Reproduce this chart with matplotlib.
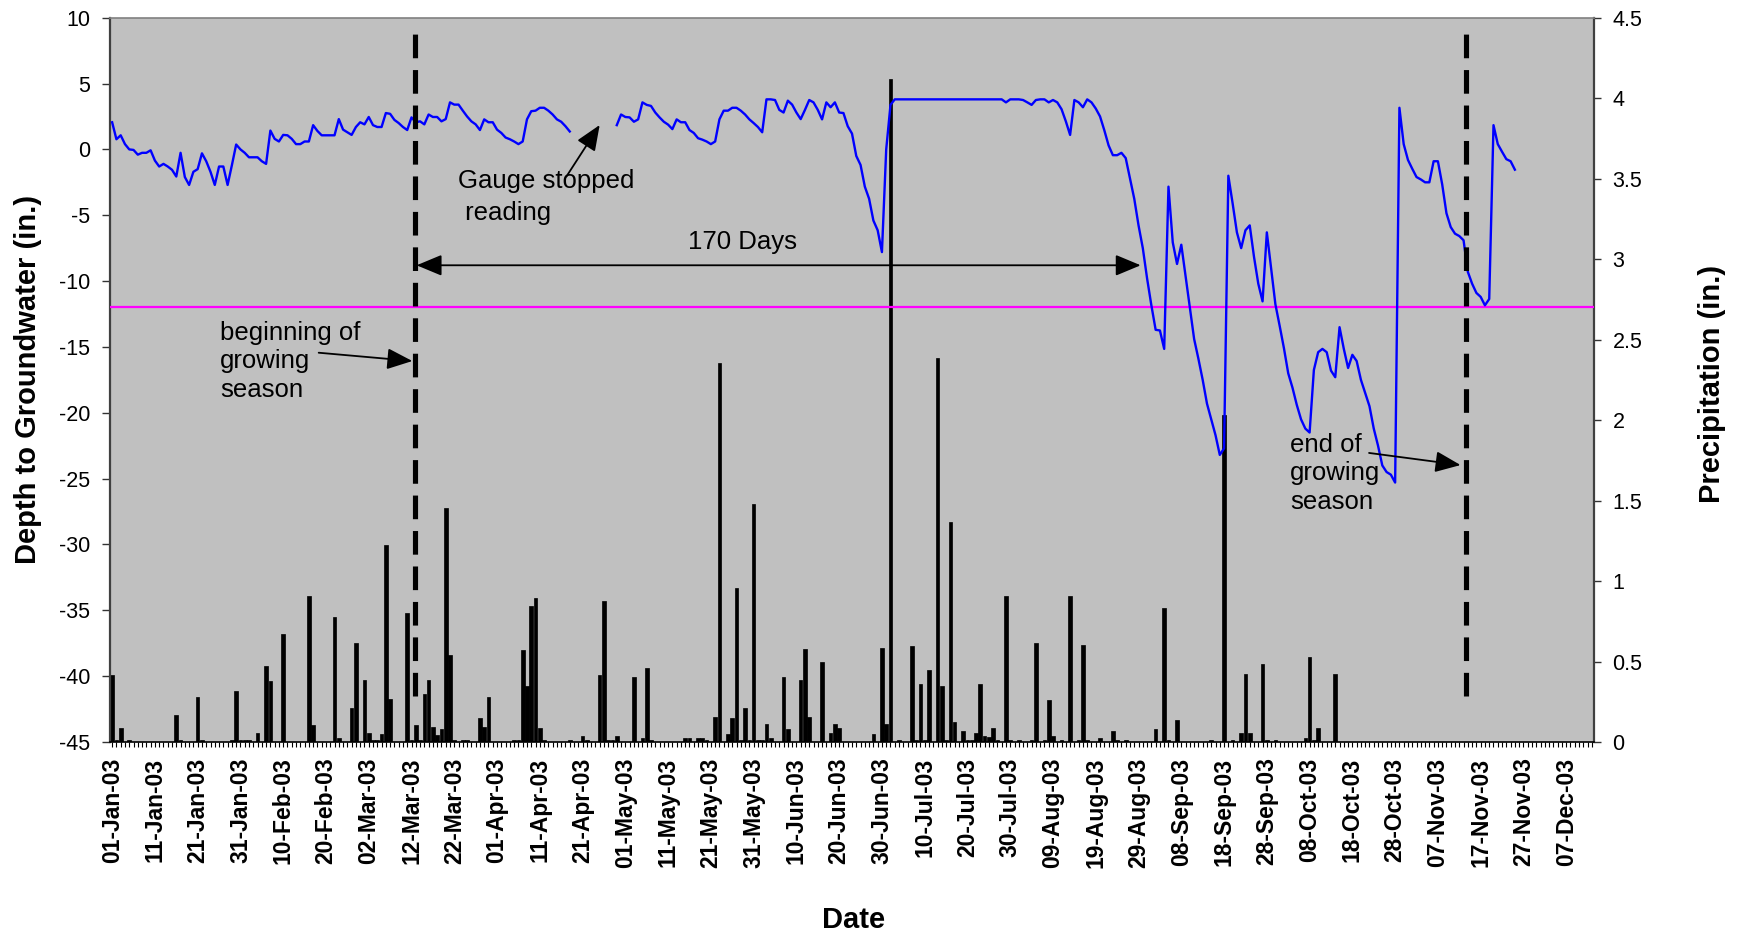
import numpy as np
import pandas as pd
import matplotlib
matplotlib.use("Agg")
import matplotlib.pyplot as plt

plt.rcParams["font.family"] = ["Liberation Sans", "DejaVu Sans"]
plt.rcParams["axes.unicode_minus"] = False

# daily depth to groundwater (in.), starting 01-Jan-03; None = gauge not reading
depth = [
    2.06, 0.77, 1.07, 0.4, 0.0, -0.04, -0.4, -0.26, -0.26, -0.07,
    -0.85, -1.3, -1.1, -1.3, -1.55, -2.06, -0.26, -2.1, -2.7, -1.7,
    -1.5, -0.3, -0.9, -1.7, -2.7, -1.3, -1.3, -2.7, -1.2, 0.37,
    0.0, -0.26, -0.6, -0.6, -0.6, -0.9, -1.1, 1.43, 0.8, 0.6,
    1.1, 1.07, 0.8, 0.4, 0.4, 0.6, 0.6, 1.84, 1.4, 1.07,
    1.07, 1.07, 1.07, 2.3, 1.5, 1.3, 1.1, 1.7, 2.06, 1.9,
    2.46, 1.84, 1.7, 1.7, 2.76, 2.7, 2.24, 2.0, 1.7, 1.47,
    2.43, 2.06, 2.13, 1.9, 2.65, 2.46, 2.46, 2.13, 2.3, 3.57,
    3.4, 3.4, 2.94, 2.5, 2.13, 1.9, 1.47, 2.28, 2.06, 2.06,
    1.5, 1.25, 0.9, 0.77, 0.6, 0.4, 0.6, 2.28, 2.9, 2.94,
    3.16, 3.16, 2.94, 2.65, 2.28, 2.1, 1.76, 1.36, None, None,
    None, None, None, None, None, None, None, None, 1.84, 2.65,
    2.46, 2.43, 2.1, 2.28, 3.57, 3.38, 3.3, 2.8, 2.43, 2.1,
    1.88, 1.54, 2.28, 2.06, 2.06, 1.47, 1.25, 0.85, 0.74, 0.6,
    0.4, 0.6, 2.28, 2.94, 2.94, 3.16, 3.16, 2.94, 2.65, 2.28,
    2.0, 1.7, 1.3, 3.8, 3.8, 3.75, 3.0, 2.8, 3.7, 3.4,
    2.8, 2.3, 3.0, 3.75, 3.57, 3.0, 2.28, 3.57, 3.2, 3.57,
    2.8, 2.76, 1.76, 1.2, -0.5, -1.18, -2.83, -3.75, -5.4, -6.14,
    -7.8, 0.0, 3.38, 3.8, 3.8, 3.8, 3.8, 3.8, 3.8, 3.8,
    3.8, 3.8, 3.8, 3.8, 3.8, 3.8, 3.8, 3.8, 3.8, 3.8,
    3.8, 3.8, 3.8, 3.8, 3.8, 3.8, 3.8, 3.8, 3.8, 3.57,
    3.8, 3.8, 3.8, 3.75, 3.57, 3.38, 3.75, 3.8, 3.8, 3.57,
    3.75, 3.57, 3.05, 2.13, 1.1, 3.75, 3.57, 3.2, 3.8, 3.57,
    3.1, 2.5, 1.45, 0.3, -0.44, -0.44, -0.26, -0.66, -2.2, -3.75,
    -5.77, -7.5, -9.8, -11.84, -13.7, -13.75, -15.15, -2.83, -7.06, -8.7,
    -7.24, -9.63, -12.0, -14.4, -15.9, -17.5, -19.3, -20.5, -21.7, -23.2,
    -22.7, -2.0, -4.1, -6.3, -7.5, -6.14, -5.77, -8.16, -10.2, -11.54,
    -6.3, -9.05, -11.76, -13.4, -15.1, -17.0, -18.1, -19.4, -20.5, -21.2,
    -21.5, -16.75, -15.4, -15.15, -15.4, -16.8, -17.3, -13.5, -15.15, -16.6,
    -15.6, -16.07, -17.5, -18.5, -19.5, -21.2, -22.5, -24.0, -24.5, -24.7,
    -25.3, 3.16, 0.4, -0.8, -1.47, -2.1, -2.28, -2.5, -2.5, -0.9,
    -0.9, -2.65, -4.85, -5.9, -6.4, -6.58, -6.9, -9.3, -10.2, -10.9,
    -11.2, -11.84, -11.36, 1.84, 0.4, -0.18, -0.74, -0.9, -1.54,
]

# precipitation (in.): day offset from 01-Jan-03 and amount
rain_day = [
    0, 1, 2, 4, 15, 16, 20, 21, 28, 29, 30, 31, 32, 34, 36, 37, 40, 46, 47, 52,
    53, 56, 57, 59, 60, 61, 62, 63, 64, 65, 69, 70, 71, 72, 73, 74, 75, 76, 77, 78,
    79, 80, 82, 83, 86, 87, 88, 94, 95, 96, 97, 98, 99, 100, 101, 107, 110, 111, 114, 115,
    116, 117, 118, 122, 124, 125, 126, 134, 135, 137, 138, 139, 141, 142, 144, 145, 146, 147, 148, 149,
    150, 151, 152, 153, 154, 157, 158, 161, 162, 163, 166, 168, 169, 170, 178, 180, 181, 182, 184, 187,
    188, 189, 190, 191, 193, 194, 195, 196, 197, 199, 200, 201, 202, 203, 204, 205, 206, 207, 209, 210,
    212, 215, 216, 218, 219, 220, 222, 224, 226, 227, 228, 231, 234, 235, 237, 244, 246, 247, 249, 257,
    260, 262, 264, 265, 266, 269, 270, 272, 279, 280, 281, 282, 286,
]
rain_in = [
    0.415, 0.01, 0.087, 0.015, 0.17, 0.015, 0.277, 0.015, 0.015, 0.316, 0.015, 0.015, 0.015, 0.057, 0.475, 0.376, 0.668, 0.906, 0.105, 0.776,
    0.024, 0.21, 0.614, 0.385, 0.057, 0.015, 0.015, 0.048, 1.227, 0.268, 0.803, 0.015, 0.105, 0.015, 0.298, 0.385, 0.096, 0.042, 0.078, 1.456,
    0.538, 0.015, 0.015, 0.015, 0.147, 0.096, 0.277, 0.015, 0.015, 0.569, 0.349, 0.848, 0.897, 0.087, 0.015, 0.015, 0.036, 0.015, 0.415, 0.875,
    0.015, 0.015, 0.036, 0.406, 0.024, 0.457, 0.015, 0.024, 0.024, 0.024, 0.024, 0.015, 0.156, 2.356, 0.048, 0.147, 0.957, 0.015, 0.21, 0.015,
    1.477, 0.015, 0.015, 0.114, 0.024, 0.406, 0.078, 0.385, 0.578, 0.156, 0.496, 0.057, 0.114, 0.087, 0.048, 0.587, 0.114, 4.12, 0.015, 0.596,
    0.015, 0.358, 0.015, 0.448, 2.383, 0.349, 0.015, 1.366, 0.126, 0.069, 0.015, 0.015, 0.057, 0.358, 0.039, 0.03, 0.087, 0.015, 0.906, 0.015,
    0.015, 0.015, 0.614, 0.015, 0.259, 0.039, 0.015, 0.906, 0.015, 0.605, 0.015, 0.024, 0.069, 0.015, 0.015, 0.078, 0.83, 0.015, 0.138, 0.015,
    2.03, 0.015, 0.057, 0.424, 0.057, 0.484, 0.015, 0.015, 0.024, 0.526, 0.015, 0.087, 0.424,
]

start = pd.Timestamp("2003-01-01")
n_slots = 347          # 01-Jan-03 .. 13-Dec-03 on the axis
threshold = -12        # magenta reference line
season_start = 70.8    # dashed line positions (day offsets)
season_end = 316.6

days = np.arange(len(depth))
depth_arr = np.array([np.nan if v is None else v for v in depth], dtype=float)
tick_days = np.arange(0, n_slots, 10)
tick_labels = [(start + pd.Timedelta(days=int(d))).strftime("%d-%b-%y") for d in tick_days]

W, H = 1739, 935
fig = plt.figure(figsize=(W / 100, H / 100), dpi=100)
ax = fig.add_axes([110 / W, 1 - 742 / H, 1484 / W, 724.3 / H])
ax2 = ax.twinx()
ax.set_zorder(2)
ax2.set_zorder(1)
ax.patch.set_visible(False)
ax2.patch.set_visible(True)
ax2.patch.set_facecolor("#C0C0C0")

# precipitation bars (right axis, drawn beneath)
ax2.bar(rain_day, rain_in, width=0.85, color="black", edgecolor="black", linewidth=0.5)
ax2.set_ylim(0, 4.5)
ax2.set_yticks(np.arange(0, 4.51, 0.5))
ax2.set_yticklabels([f"{v:g}" for v in np.arange(0, 4.51, 0.5)], fontsize=15.5)
ax2.tick_params(axis="y", direction="out", length=5, width=1, pad=8.4, color="#333333")
for s in ax2.spines.values():
    s.set_visible(False)

# groundwater line and references
ax.plot(days, depth_arr, color="#0000FF", lw=1.7, zorder=4)
ax.axhline(threshold, color="#FF00FF", lw=1.6, zorder=3)
dash = (0, (4.6, 2.3))
for xd in (season_start, season_end):
    ax.plot([xd, xd], [-41.5, 9.25], color="black", lw=3.7, linestyle=dash, zorder=5)

ax.set_xlim(-0.5, n_slots - 0.5)
ax.set_ylim(-45, 10)
ax.set_yticks(np.arange(-45, 11, 5))
ax.set_yticklabels([str(v) for v in np.arange(-45, 11, 5)], fontsize=15.5)
ax.tick_params(axis="y", direction="out", length=5.5, width=1, pad=8.9, color="#333333")
ax.set_xticks(tick_days)
ax.set_xticklabels(tick_labels, rotation=90, fontsize=16.5, fontweight="bold")
ax.set_xticks(np.arange(0, n_slots), minor=True)
ax.tick_params(axis="x", which="both", direction="out", length=3.6, width=0.8, pad=7.5)

ax.spines["top"].set_color("#808080")
ax.spines["top"].set_linewidth(1.2)
ax.spines["left"].set_color("#404040")
ax.spines["left"].set_linewidth(1.6)
ax.spines["right"].set_color("#404040")
ax.spines["right"].set_linewidth(1.6)
ax.spines["bottom"].set_color("black")
ax.spines["bottom"].set_linewidth(1.2)

ax.set_ylabel("Depth to Groundwater (in.)", fontsize=21, fontweight="bold")
ax.yaxis.set_label_coords(-0.046, 0.5)
ax2.set_ylabel("Precipitation (in.)", fontsize=21, fontweight="bold")
ax2.yaxis.set_label_coords(1.07, 0.494)
ax.set_xlabel("Date", fontsize=21, fontweight="bold")
ax.xaxis.set_label_coords(0.501, -0.226)

# annotations
head = "-|>,head_length=0.6,head_width=0.25"
ax.annotate("", xy=(240.5, -8.8), xytext=(71.2, -8.8),
            arrowprops=dict(arrowstyle="<|-|>,head_length=0.6,head_width=0.25", color="black",
                            lw=1.3, mutation_scale=26, shrinkA=0, shrinkB=0), zorder=6)
ax.text(147.4, -7.6, "170 Days", ha="center", va="baseline", fontsize=18.5, zorder=6)

ax.text(80.8, -1.49, "Gauge stopped\n reading", ha="left", va="top", fontsize=18.5,
        linespacing=1.4, zorder=6)
ax.annotate("", xy=(114, 1.85), xytext=(106.2, -2.07),
            arrowprops=dict(arrowstyle=head, color="black", lw=1.3, mutation_scale=26,
                            shrinkA=0, shrinkB=0), zorder=6)

ax.text(25.2, -13.0, "beginning of\ngrowing\nseason", ha="left", va="top", fontsize=18.5,
        linespacing=1.25, zorder=6)
ax.annotate("", xy=(70.2, -16.07), xytext=(48.3, -15.44),
            arrowprops=dict(arrowstyle=head, color="black", lw=1.3, mutation_scale=26,
                            shrinkA=0, shrinkB=0), zorder=6)

ax.text(275.5, -21.5, "end of\ngrowing\nseason", ha="left", va="top", fontsize=18.5,
        linespacing=1.25, zorder=6)
ax.annotate("", xy=(315.3, -23.97), xytext=(293.9, -23.05),
            arrowprops=dict(arrowstyle=head, color="black", lw=1.3, mutation_scale=26,
                            shrinkA=0, shrinkB=0), zorder=6)

fig.savefig("out.png", dpi=100)
